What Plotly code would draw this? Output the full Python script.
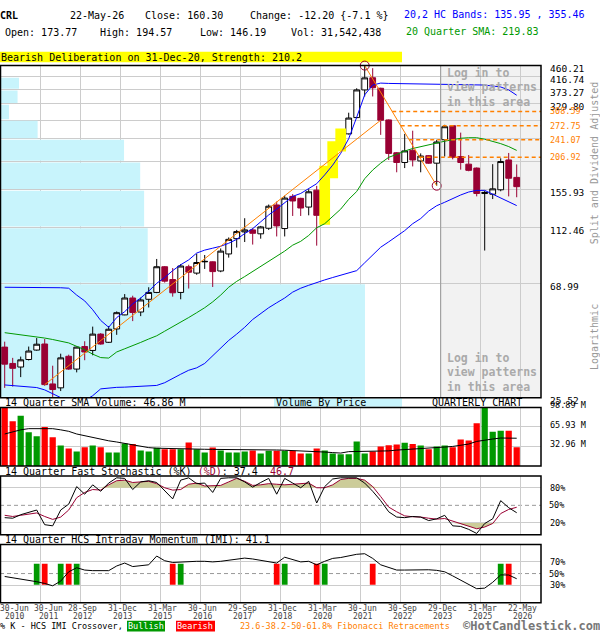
import math
import plotly.graph_objects as go

W, H = 600, 640
MONO = "DejaVu Sans Mono"

# ---------------- data (quarterly, 30-Jun-2010 .. 22-May-2026) ----------------
ticker = "CRL"
last_date = "22-May-26"
open_ = [39.62, 34.37, 33.31, 35.57, 38.62, 40.71, 28.75, 27.79, 36.58, 32.73,
         39.82, 38.50, 44.37, 41.33, 46.42, 52.46, 60.78, 53.80, 60.10, 63.80,
         79.80, 71.40, 63.80, 79.80, 75.50, 83.30, 83.30, 76.90, 89.20, 101.9,
         108.1, 110.0, 106.3, 111.6, 136.7, 111.3, 147.3, 144.8, 134.2, 155.5,
         119.7, 175.7, 227.8, 253.9, 292.6, 372.3, 414.0, 377.7, 286.7, 215.4,
         197.9, 220.2, 200.6, 210.0, 196.7, 241.2, 272.5, 208.4, 195.0, 188.5,
         151.0, 150.1, 156.0, 202.3, 173.77]
high = [41.55, 36.08, 36.48, 39.82, 42.88, 42.52, 33.70, 37.42, 37.10, 39.82,
        41.70, 47.37, 44.75, 47.61, 54.07, 62.90, 62.00, 61.00, 66.75, 85.40,
        80.30, 78.90, 81.70, 81.20, 89.40, 88.40, 83.60, 93.60, 103.0, 110.0,
        121.8, 111.6, 113.9, 137.2, 140.8, 148.2, 150.2, 145.5, 156.8, 161.4,
        188.5, 233.2, 261.0, 305.3, 377.7, 460.21, 450.0, 379.5, 288.0, 216.5,
        253.9, 261.0, 214.2, 211.0, 241.2, 274.8, 274.1, 256.7, 211.1, 189.5,
        154.6, 195.0, 205.2, 215.0, 194.57]
low = [27.79, 28.10, 30.51, 35.27, 38.40, 28.30, 25.67, 27.02, 32.50, 31.80,
       35.35, 36.90, 40.47, 41.07, 44.10, 52.30, 49.70, 51.90, 55.96, 63.40,
       69.50, 61.50, 60.10, 66.00, 74.40, 78.30, 66.90, 76.10, 86.40, 94.30,
       98.97, 96.80, 101.9, 110.0, 103.9, 103.9, 124.2, 124.2, 124.9, 95.90,
       116.4, 174.6, 220.2, 252.4, 291.0, 351.7, 351.7, 251.7, 202.3, 181.7,
       188.5, 191.2, 181.7, 195.5, 161.65, 208.4, 203.4, 185.9, 183.3, 147.3,
       91.90, 143.9, 154.0, 147.3, 146.19]
close = [34.16, 32.94, 35.47, 38.29, 40.64, 28.58, 27.38, 36.08, 32.73, 39.62,
         37.97, 44.37, 40.71, 46.30, 53.48, 60.78, 53.60, 59.76, 63.80, 79.80,
         70.40, 63.60, 80.30, 76.10, 82.80, 83.60, 76.50, 91.45, 101.3, 108.4,
         110.0, 106.8, 112.9, 135.2, 113.9, 145.1, 141.5, 133.1, 153.3, 124.9,
         174.6, 226.4, 250.3, 291.4, 372.3, 413.5, 379.5, 286.0, 214.15, 197.9,
         218.9, 202.3, 209.3, 196.7, 236.6, 270.2, 207.0, 197.9, 184.8, 151.1,
         152.5, 157.3, 199.5, 172.5, 160.30]
upper_band = [66.74, 66.74, 66.74, 66.46, 66.46, 66.74, 66.74, 66.46, 66.18, 62.34,
              59.26, 54.88, 49.99, 47.09, 51.27, 53.96, 57.74, 60.78, 64.52, 69.06,
              72.66, 77.14, 81.19, 84.71, 89.91, 92.23, 93.81, 95.40, 97.90, 101.3,
              106.6, 111.2, 118.0, 125.3, 131.8, 139.9, 147.3, 151.1, 157.8, 164.5,
              177.6, 193.4, 214.2, 243.5, 293.5, 356.8, 388.5, 395.1, 394.0, 393.5,
              393.0, 392.5, 392.0, 391.5, 391.0, 390.5, 390.0, 389.8, 389.5, 389.0,
              388.5, 385.2, 382.0, 372.3, 355.46]
sma20 = [44.93, 44.55, 44.18, 43.80, 43.43, 42.88, 42.34, 41.81, 41.10, 39.89,
         38.72, 37.27, 36.17, 36.02, 37.98, 39.05, 40.06, 41.28, 42.52, 43.73,
         45.52, 47.29, 49.13, 51.27, 53.48, 55.84, 58.76, 62.34, 66.74, 70.25,
         73.25, 76.50, 79.80, 83.30, 87.60, 91.45, 96.30, 99.57, 104.8, 112.1,
         116.1, 123.2, 131.8, 143.5, 153.7, 171.8, 185.3, 196.7, 207.0, 212.3,
         218.7, 223.5, 227.3, 230.2, 234.2, 238.2, 241.3, 244.4, 245.5, 245.5,
         242.4, 238.2, 233.2, 227.3, 219.83]
lower_band = [28.50, 28.34, 28.17, 28.03, 27.86, 27.30, 26.39, 25.52, 24.88, 24.67,
              24.88, 25.95, 27.54, 27.79, 27.91, 27.96, 28.03, 28.08, 28.14, 28.38,
              29.06, 30.25, 31.29, 32.39, 33.08, 34.37, 36.79, 39.22, 42.00, 44.37,
              47.09, 50.41, 53.25, 55.84, 58.30, 60.78, 63.98, 66.18, 67.90, 69.67,
              71.14, 72.66, 74.23, 75.78, 77.14, 82.60, 88.40, 94.60, 99.10, 103.9,
              109.3, 116.1, 121.4, 129.6, 135.8, 139.9, 144.8, 149.1, 153.0, 155.2,
              155.2, 150.4, 145.4, 140.5, 135.95]
volume_m = [101.0, 75.6, 84.7, 56.8, 50.0, 65.9, 48.3, 34.7, 29.5, 24.4,
            31.8, 34.7, 31.8, 22.7, 22.7, 38.1, 36.9, 26.1, 24.4, 30.7,
            28.4, 28.4, 28.4, 39.8, 28.4, 22.7, 31.3, 26.1, 22.7, 22.7,
            24.4, 26.1, 21.0, 25.6, 25.6, 25.6, 25.6, 21.0, 21.0, 29.5,
            26.1, 21.0, 19.9, 19.9, 41.5, 21.0, 24.4, 33.0, 35.2, 36.4,
            39.2, 36.9, 34.7, 28.4, 33.0, 34.7, 31.8, 44.9, 43.2, 72.2,
            101.2, 57.7, 59.3, 59.3, 31.542438]
vol_sma14 = [54.0, 58.0, 61.0, 63.0, 63.0, 63.0, 63.0, 61.0, 58.5, 54.0,
             51.0, 47.5, 45.0, 42.5, 40.5, 38.0, 36.0, 33.0, 31.0, 30.0,
             29.5, 29.0, 28.8, 28.5, 28.3, 28.2, 28.0, 28.0, 27.8, 27.7,
             27.5, 27.4, 27.3, 27.2, 27.0, 26.6, 26.2, 25.8, 25.2, 24.3,
             23.5, 22.6, 21.8, 24.2, 24.4, 24.4, 24.4, 24.5, 25.5, 26.8,
             27.5, 28.5, 29.3, 30.0, 31.0, 32.0, 33.0, 34.7, 37.0, 41.5,
             44.0, 45.5, 47.2, 47.5, 46.86]
stoch_k = [29, 28, 34, 38, 42, 17, 15, 42, 52, 82,
           69, 85, 74, 88, 97, 96, 77, 90, 92, 89,
           75, 61, 93, 97, 87, 88, 72, 96, 97, 97,
           90, 81, 89, 96, 69, 96, 88, 80, 91, 54,
           82, 95, 97, 97, 97, 88, 74, 58, 39, 30,
           29, 31, 30, 24, 27, 33, 15, 14, 9, 2,
           19, 27, 58, 46, 37.4]
stoch_d = [33, 31, 33, 35, 37, 31, 26, 30, 42, 63,
           72, 77, 76, 85, 92, 93, 89, 90, 91, 87,
           80, 76, 77, 86, 88, 83, 84, 84, 90, 96,
           91, 84, 85, 87, 86, 85, 86, 87, 88, 80,
           80, 85, 94, 96, 96, 93, 82, 65, 47, 39,
           32, 30.5, 30, 28, 26.5, 27.5, 23, 18, 14, 10,
           13, 19, 36, 43, 46.7]
imi = [45, 43, 41, 38, 36, 33, 29, 37, 53, 60,
       56, 55, 55, 55, 63, 68, 62, 63, 65, 80,
       72, 69, 70, 70, 71, 71, 70, 71, 73, 75,
       76.5, 75, 73, 71, 68, 78, 74, 70, 71, 65,
       71, 76, 77.5, 80, 83, 84, 76, 65, 60, 56,
       56, 56, 57, 56.5, 55.5, 53, 46, 39, 31, 24,
       25, 35, 47.7, 47.5, 41.1]
bull_idx = [4, 7, 9, 22, 35, 40, 62]
bear_idx = [5, 8, 21, 34, 39, 46, 63]
pattern_idx = [40, 41, 42]
swing_high_idx, swing_low_idx = 45, 54
trend_idx = [5, 47]
fib_levels = [206.92, 241.07, 272.75, 308.59]
login_start_idx = 54
price_ticks = [25.52, 68.99, 112.46, 155.93, 199.39, 242.86, 286.33, 329.80, 373.27, 416.74, 460.21]
price_tick_text = ["25.52", "68.99", "112.46", "155.93", "", "", "", "329.80", "373.27", "416.74", "460.21"]
vbp_volume_m = [1018, 412, 402, 391, 346, 105, 25, 49, 53, 3]   # per price bin (between price ticks)
vol_ticks = [32.96, 65.93, 98.89]
vol_tick_text = ["32.96 M", "65.93 M", "98.89 M"]
date_idx = [0, 4, 9, 14, 19, 24, 29, 34, 39, 44, 49, 54, 59, 64]
date_day = ["30-Jun", "30-Jun", "28-Sep", "31-Dec", "31-Mar", "30-Jun", "29-Sep",
            "31-Dec", "31-Mar", "30-Jun", "30-Sep", "29-Dec", "31-Mar", "22-May"]
date_year = ["2010", "2011", "2012", "2013", "2015", "2016", "2017",
             "2018", "2020", "2021", "2022", "2023", "2025", "2026"]

# ---------------- styling / geometry ----------------
n = len(close)
idx = list(range(n))
GRID = "#cccccc"
CRIMSON = "#990033"
ORANGE = "#ff8000"
GREEN = "#009900"
RED = "#ff0000"
PLOT_RIGHT = 541.0
SLOT = 8.0
XD = [0, PLOT_RIGHT / W]
X_RANGE = [-0.5875, -0.5875 + PLOT_RIGHT / SLOT]
VBP_AXIS_MAX = 1509
SIG_BASE, SIG_TOP = 31, 67


def yp(p):
    return 1 - p / H


def xp(p):
    return p / W


PRICE = (60, 400)
VOL = (410, 470)
STOCH = (480.3, 540.3)
IMIP = (550.3, 610)

fig = go.Figure()

# volume by price (base subplot x/y)
gap = 1.007
for k, v in enumerate(vbp_volume_m):
    lo, hi = price_ticks[k] * gap, price_ticks[k + 1] / gap
    fig.add_trace(go.Scatter(x=[0, v, v, 0, 0], y=[lo, lo, hi, hi, lo], mode="lines",
                             fill="toself", fillcolor="#c8f4fc", line=dict(width=0),
                             xaxis="x", yaxis="y", hoverinfo="skip"))

# pattern highlight boxes
for i in pattern_idx:
    lo, hi = low[i] / 1.012, high[i] * 1.02
    fig.add_trace(go.Scatter(x=[i - 0.67, i + 0.67, i + 0.67, i - 0.67, i - 0.67],
                             y=[lo, lo, hi, hi, lo], mode="lines", fill="toself",
                             fillcolor="#ffff00", line=dict(width=0),
                             xaxis="x5", yaxis="y", hoverinfo="skip"))

fig.add_trace(go.Candlestick(x=idx, open=open_, high=high, low=low, close=close,
                             increasing=dict(line=dict(color="black", width=1), fillcolor="white"),
                             decreasing=dict(line=dict(color=CRIMSON, width=1), fillcolor=CRIMSON),
                             whiskerwidth=0, xaxis="x5", yaxis="y", hoverinfo="skip"))

for series, col in [(upper_band, "#0000ff"), (lower_band, "#0000ff"), (sma20, GREEN)]:
    fig.add_trace(go.Scatter(x=idx, y=series, mode="lines", line=dict(color=col, width=1),
                             xaxis="x5", yaxis="y", hoverinfo="skip"))

# trend line and fib swing line
fig.add_trace(go.Scatter(x=trend_idx, y=[close[i] for i in trend_idx], mode="lines",
                         line=dict(color=ORANGE, width=1), xaxis="x5", yaxis="y", hoverinfo="skip"))
fig.add_trace(go.Scatter(x=[swing_high_idx, swing_low_idx], y=[high[swing_high_idx], low[swing_low_idx]],
                         mode="lines", line=dict(color=ORANGE, width=1), xaxis="x5", yaxis="y",
                         hoverinfo="skip"))
lh, ll = math.log(high[swing_high_idx]), math.log(low[swing_low_idx])
annotations = []
for lvl in fib_levels:
    t = (lh - math.log(lvl)) / (lh - ll)
    xs = swing_high_idx + t * (swing_low_idx - swing_high_idx)
    fig.add_trace(go.Scatter(x=[xs, X_RANGE[1]], y=[lvl, lvl], mode="lines",
                             line=dict(color=ORANGE, width=1.5, dash="4px,3px"),
                             xaxis="x5", yaxis="y", hoverinfo="skip"))
    annotations.append(dict(xref="paper", yref="y", x=xp(549), y=math.log10(lvl), text=f"{lvl:.2f}",
                            showarrow=False, xanchor="left", yanchor="middle", borderpad=0,
                            font=dict(family=MONO, size=8.5, color=ORANGE)))

fig.add_trace(go.Scatter(x=[swing_high_idx, swing_low_idx], y=[high[swing_high_idx], low[swing_low_idx]],
                         mode="markers", marker=dict(symbol="circle-open", size=9, color=CRIMSON,
                                                     line=dict(width=1, color=CRIMSON)),
                         xaxis="x5", yaxis="y", hoverinfo="skip", cliponaxis=False))

# volume panel
vol_colors = [GREEN if c >= o else RED for o, c in zip(open_, close)]
fig.add_trace(go.Bar(x=idx, y=volume_m, marker=dict(color=vol_colors, line=dict(width=0)), width=0.78,
                     xaxis="x2", yaxis="y2", hoverinfo="skip"))
fig.add_trace(go.Scatter(x=idx, y=vol_sma14, mode="lines", line=dict(color="black", width=1),
                         xaxis="x2", yaxis="y2", hoverinfo="skip"))

# stochastic panel
fig.add_trace(go.Scatter(x=idx, y=[80] * n, mode="lines", line=dict(width=0), xaxis="x3", yaxis="y3",
                         hoverinfo="skip"))
fig.add_trace(go.Scatter(x=idx, y=[max(d, 80) for d in stoch_d], mode="lines", line=dict(width=0),
                         fill="tonexty", fillcolor="#cccc99", xaxis="x3", yaxis="y3", hoverinfo="skip"))
fig.add_trace(go.Scatter(x=idx, y=[20] * n, mode="lines", line=dict(width=0), xaxis="x3", yaxis="y3",
                         hoverinfo="skip"))
fig.add_trace(go.Scatter(x=idx, y=[min(d, 20) for d in stoch_d], mode="lines", line=dict(width=0),
                         fill="tonexty", fillcolor="#cccc99", xaxis="x3", yaxis="y3", hoverinfo="skip"))
fig.add_trace(go.Scatter(x=idx, y=stoch_d, mode="lines", line=dict(color=CRIMSON, width=1),
                         xaxis="x3", yaxis="y3", hoverinfo="skip"))
fig.add_trace(go.Scatter(x=idx, y=stoch_k, mode="lines", line=dict(color="black", width=1),
                         xaxis="x3", yaxis="y3", hoverinfo="skip"))

# IMI panel
for sig, col in [(bull_idx, GREEN), (bear_idx, RED)]:
    fig.add_trace(go.Bar(x=sig, y=[SIG_TOP - SIG_BASE] * len(sig), base=[SIG_BASE] * len(sig),
                         width=0.72, marker=dict(color=col, line=dict(width=0)),
                         xaxis="x4", yaxis="y4", hoverinfo="skip"))
fig.add_trace(go.Scatter(x=idx, y=imi, mode="lines", line=dict(color="black", width=1),
                         xaxis="x4", yaxis="y4", hoverinfo="skip"))

# ---------------- axes ----------------
gridvals = [g + 0.5 for g in date_idx[1:]]


def xax(anchor, **kw):
    d = dict(domain=XD, range=X_RANGE, anchor=anchor, tickvals=gridvals, showticklabels=False,
             ticks="", showgrid=True, gridcolor=GRID, gridwidth=1, zeroline=False, showline=False,
             fixedrange=True)
    d.update(kw)
    return d


def yax(anchor, dom, rng, tv, tt, shift=0, size=8.5, **kw):
    d = dict(domain=[yp(dom[1]), yp(dom[0])], range=rng, anchor=anchor, side="right",
             tickvals=tv, ticktext=tt, ticks="", showgrid=True, gridcolor=GRID, gridwidth=1,
             zeroline=False, showline=False, fixedrange=True, ticklabelstandoff=8,
             ticklabelshift=shift, tickfont=dict(family=MONO, size=size, color="black"))
    d.update(kw)
    return d


fig.update_layout(
    width=W, height=H, margin=dict(l=0, r=0, t=0, b=0, pad=0),
    paper_bgcolor="white", plot_bgcolor="white", showlegend=False,
    boxgap=0.28, boxgroupgap=0,
    xaxis=dict(domain=XD, range=[0, VBP_AXIS_MAX], anchor="y", visible=False, fixedrange=True),
    xaxis5=xax("y", overlaying="x", rangeslider=dict(visible=False)),
    xaxis2=xax("y2"),
    xaxis3=xax("y3"),
    xaxis4=xax("y4"),
    yaxis=yax("x", PRICE, [math.log10(price_ticks[0]), math.log10(price_ticks[-1])],
              price_ticks, price_tick_text, shift=3, size=9.5, type="log"),
    yaxis2=yax("x2", VOL, [0, vol_ticks[-1]], vol_ticks, vol_tick_text, shift=-2),
    yaxis3=yax("x3", STOCH, [0, 100], [20, 80], ["20%", "80%"]),
    yaxis4=yax("x4", IMIP, [0, 100], [30, 70], ["30%", "70%"]),
)

# ---------------- shapes ----------------
shapes = []
# login (shaded) region
shapes.append(dict(type="rect", xref="x5", yref="y domain", x0=login_start_idx + 0.5, x1=X_RANGE[1],
                   y0=0, y1=1, fillcolor="#f2f2f2", line=dict(width=0), layer="below"))
shapes.append(dict(type="line", xref="x5", yref="y domain", x0=login_start_idx + 0.5, x1=login_start_idx + 0.5,
                   y0=0, y1=1, line=dict(color="#999999", width=1), layer="above"))
# dashed 50% lines
for ax in ["3", "4"]:
    shapes.append(dict(type="line", xref=f"x{ax} domain", yref=f"y{ax}", x0=0, x1=1, y0=50, y1=50,
                       line=dict(color="#999999", width=1, dash="4px,3px"), layer="below"))
# panel frames
for top, bot in [PRICE, VOL, STOCH, IMIP]:
    shapes.append(dict(type="rect", xref="paper", yref="paper", x0=xp(0.5), x1=xp(PLOT_RIGHT),
                       y0=yp(bot), y1=yp(top), line=dict(color="black", width=1.5),
                       fillcolor="rgba(0,0,0,0)", layer="above"))
# yellow banner, volume-by-price label bg, legend boxes
shapes.append(dict(type="rect", xref="paper", yref="paper", x0=0, x1=xp(402), y0=yp(56.7), y1=yp(45.7),
                   fillcolor="#ffff00", line=dict(width=0), layer="below"))
shapes.append(dict(type="rect", xref="paper", yref="paper", x0=xp(274), x1=xp(402), y0=yp(409.3), y1=yp(401),
                   fillcolor="#c8f4fc", line=dict(width=0), layer="below"))
shapes.append(dict(type="rect", xref="paper", yref="paper", x0=xp(127), x1=xp(165), y0=yp(639.5), y1=yp(628.5),
                   fillcolor=GREEN, line=dict(width=0), layer="below"))
shapes.append(dict(type="rect", xref="paper", yref="paper", x0=xp(176), x1=xp(215), y0=yp(639.5), y1=yp(628.5),
                   fillcolor=RED, line=dict(width=0), layer="below"))


# ---------------- text ----------------
def txt(x, y, s, size=10, color="black", anchor="left", **kw):
    d = dict(xref="paper", yref="paper", x=xp(x), y=yp(y), text=s, showarrow=False, xanchor=anchor,
             yanchor="middle", borderpad=0, borderwidth=0, font=dict(family=MONO, size=size, color=color))
    d.update(kw)
    annotations.append(d)


chg = close[-1] - close[-2]
pct = chg / close[-2] * 100
txt(0, 9, f"<b>{ticker}</b>")
txt(70, 9, last_date)
txt(145, 9, f"Close: {close[-1]:.2f}")
txt(250, 9, f"Change: {chg:.2f} {{{pct:.1f} %}}")
txt(4.5, 26, f"Open: {open_[-1]:.2f}")
txt(100, 26, f"High: {high[-1]:.2f}")
txt(200, 26, f"Low: {low[-1]:.2f}")
txt(290.5, 26, f"Vol: {round(volume_m[-1] * 1e6):,}")
txt(404, 8, f"20,2 HC Bands: {lower_band[-1]:.2f} , {upper_band[-1]:.2f}", color="#0000ff")
txt(406, 25.5, f"20 Quarter SMA: {sma20[-1]:.2f}", color=GREEN)
txt(1, 51.3, "Bearish Deliberation on 31-Dec-20, Strength: 210.2")

for ys in [(67.3, 82.3, 97.3), (359.3, 374, 389)]:
    for yy, line in zip(ys, ["Log in to", "view patterns", "in this area"]):
        txt(446.5, yy, f"<b>{line}</b>", size=11.5, color="#aaaaaa")

txt(594, 160, "Split and Dividend Adjusted", size=10, color="#999999", anchor="center", textangle=-90)
txt(594, 338, "Logarithmic", size=10, color="#999999", anchor="center", textangle=-90)

txt(4.5, 405.3, f"14 Quarter SMA Volume: {vol_sma14[-1]:.2f} M")
txt(276, 405.3, "Volume By Price")
txt(432, 405.3, "QUARTERLY CHART")
txt(4.5, 475.3, f"14 Quarter Fast Stochastic (%K) <span style='color:{CRIMSON}'>(%D)</span>: "
                f"{stoch_k[-1]:.1f}  <span style='color:{CRIMSON}'>{stoch_d[-1]:.1f}</span>")
txt(4.5, 545.3, f"14 Quarter HCS Intraday Momentum (IMI): {imi[-1]:.1f}")

# right-side labels for the dashed 50% lines
for yy in [510.3, 580.2]:
    txt(549, yy, "50%", size=8.5)

# date labels (first two are nudged apart so they do not collide, as in the original)
for k, (di, dd, yy) in enumerate(zip(date_idx, date_day, date_year)):
    for line, yy_px in [(dd, 616), (yy, 624.5)]:
        if k < 2:
            annotations.append(dict(xref="paper", yref="paper", x=xp([14.5, 48.5][k]), y=yp(yy_px), text=line,
                                    showarrow=False, xanchor="center", yanchor="middle", borderpad=0,
                                    font=dict(family=MONO, size=8, color="#444444")))
        else:
            annotations.append(dict(xref="x4", yref="paper", x=di + 0.7, y=yp(yy_px), text=line,
                                    showarrow=False, xanchor="center", yanchor="middle", borderpad=0,
                                    font=dict(family=MONO, size=8, color="#444444")))

txt(0, 634, "% K - HCS IMI Crossover,", size=8.5)
txt(146, 634, "Bullish", size=8.5, color="white", anchor="center")
txt(195.5, 634, "Bearish", size=8.5, color="white", anchor="center")
txt(240, 634, "23.6-38.2-50-61.8% Fibonacci Retracements", size=8.5, color=ORANGE)
txt(600, 633.5, "<b>©HotCandlestick.com</b>", size=12, color="#777777", anchor="right")

fig.update_layout(shapes=shapes, annotations=annotations)
fig.write_html("out.html", config={"displayModeBar": False, "staticPlot": True},
               post_script="document.body.style.margin='0px';document.body.style.padding='0px';")
